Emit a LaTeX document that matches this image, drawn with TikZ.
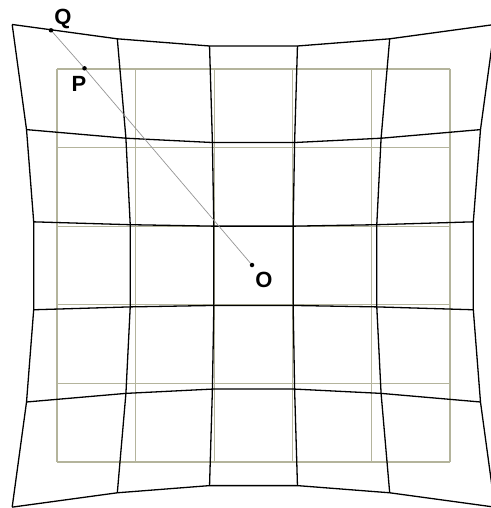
\documentclass[tikz,border=0pt]{standalone}
\usepackage{fontspec}
\setmainfont{Liberation Sans}
\definecolor{olivegrid}{RGB}{180,180,156}
\definecolor{guide}{RGB}{150,150,150}
\tikzset{
  ideal/.style={draw=olivegrid, line width=1.3pt},
  warped/.style={draw=black, line width=1.3pt, line join=round},
  ray/.style={draw=guide, line width=0.7pt},
  dotpt/.style={circle, fill=black, inner sep=0pt, minimum size=4.5pt},
  lbl/.style={font=\bfseries\fontsize{22}{22}\selectfont, inner sep=0pt},
}
\begin{document}
\begin{tikzpicture}[x=1pt,y=-1pt]
\fill[white] (0,0) rectangle (490,508);
\useasboundingbox (0,0) rectangle (490,508);
% undistorted grid
\foreach \i in {0,...,5} {
  \draw[ideal] ({57+\i*78.6},69) -- ({57+\i*78.6},462);
  \draw[ideal] (57,{69+\i*78.6}) -- (450,{69+\i*78.6});
}
% distorted (pincushion) grid points
\foreach \i in {0,...,5} {
  \foreach \j in {0,...,5} {
    \pgfmathsetmacro\u{(\i-2.5)*0.786}
    \pgfmathsetmacro\v{(\j-2.5)*0.786}
    \pgfmathsetmacro\f{1+0.02954*(\u*\u+\v*\v)}
    \coordinate (w-\i-\j) at ({253.5+100*\u*\f},{265.8+100*\v*\f});
  }
}
\foreach \i in {0,...,5} {
  \draw[warped] (w-\i-0) -- (w-\i-1) -- (w-\i-2) -- (w-\i-3) -- (w-\i-4) -- (w-\i-5);
  \draw[warped] (w-0-\i) -- (w-1-\i) -- (w-2-\i) -- (w-3-\i) -- (w-4-\i) -- (w-5-\i);
}
% points
\node[dotpt] (Q) at (51,30.3) {};
\node[dotpt] (P) at (84.5,68.3) {};
\node[dotpt] (O) at (252,265) {};
\draw[ray] (Q) -- (P) -- (O);
\node[lbl] (Ql) at (63,19) {Q};
\node[lbl] (Pl) at (79,84) {P};
\node[lbl] (Ol) at (264,280) {O};
\end{tikzpicture}
\end{document}
